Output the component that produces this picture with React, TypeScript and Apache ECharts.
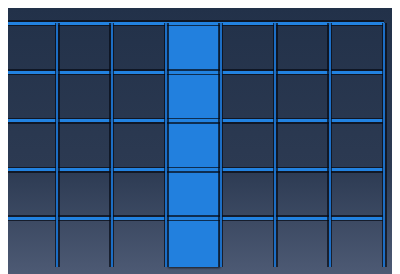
import React, { useEffect, useRef } from "react";
import * as echarts from "echarts";

const categories = ["A", "B", "C", "D", "E", "F", "G"];
const highlightValues = [null, null, null, 5, null, null, null];
const yTicks = [0, 1, 2, 3, 4, 5];

const hidden = {
  axisLine: { show: false },
  axisTick: { show: false },
  axisLabel: { show: false },
};

function xAx(color: string, width: number, z: number) {
  return {
    type: "category",
    data: categories,
    boundaryGap: true,
    gridIndex: 0,
    z,
    ...hidden,
    splitLine: { show: true, showMinLine: false, lineStyle: { color, width } },
  };
}
function yAx(color: string, width: number, z: number) {
  return {
    type: "value",
    min: yTicks[0],
    max: yTicks[yTicks.length - 1],
    interval: 1,
    gridIndex: 0,
    z,
    ...hidden,
    splitLine: { show: true, showMinLine: false, lineStyle: { color, width } },
  };
}

export default function App() {
  const ref = useRef<HTMLDivElement>(null);
  useEffect(() => {
    document.documentElement.style.overflow = "hidden";
    document.body.style.overflow = "hidden";
    if (!ref.current) return;
    const chart = echarts.init(ref.current, null, { renderer: "svg" });
    chart.setOption({
      animation: false,
      backgroundColor: {
        type: "linear",
        x: 0,
        y: 0,
        x2: 0,
        y2: 1,
        colorStops: [
          { offset: 0, color: "#223149" },
          { offset: 0.6, color: "#2c3a52" },
          { offset: 1, color: "#4d5a74" },
        ],
      },
      grid: { left: -5.5, right: 16, top: 15, bottom: 7, containLabel: false, outerBoundsMode: "none" },
      xAxis: [xAx("rgba(5,10,20,0.7)", 5, 5), xAx("#1d6ec4", 2, 6)],
      yAxis: [yAx("rgba(5,10,20,0.7)", 6, 3), yAx("#2282e0", 3, 4)],
      series: [
        {
          type: "bar",
          data: highlightValues,
          barWidth: 52,
          z: 2,
          itemStyle: {
            color: "#2180de",
            shadowColor: "rgba(0,0,0,0.7)",
            shadowBlur: 2,
            shadowOffsetX: 1,
            shadowOffsetY: 1,
          },
        },
      ],
    });
    return () => chart.dispose();
  }, []);
  return <div ref={ref} style={{ width: 392, height: 266 }} />;
}
